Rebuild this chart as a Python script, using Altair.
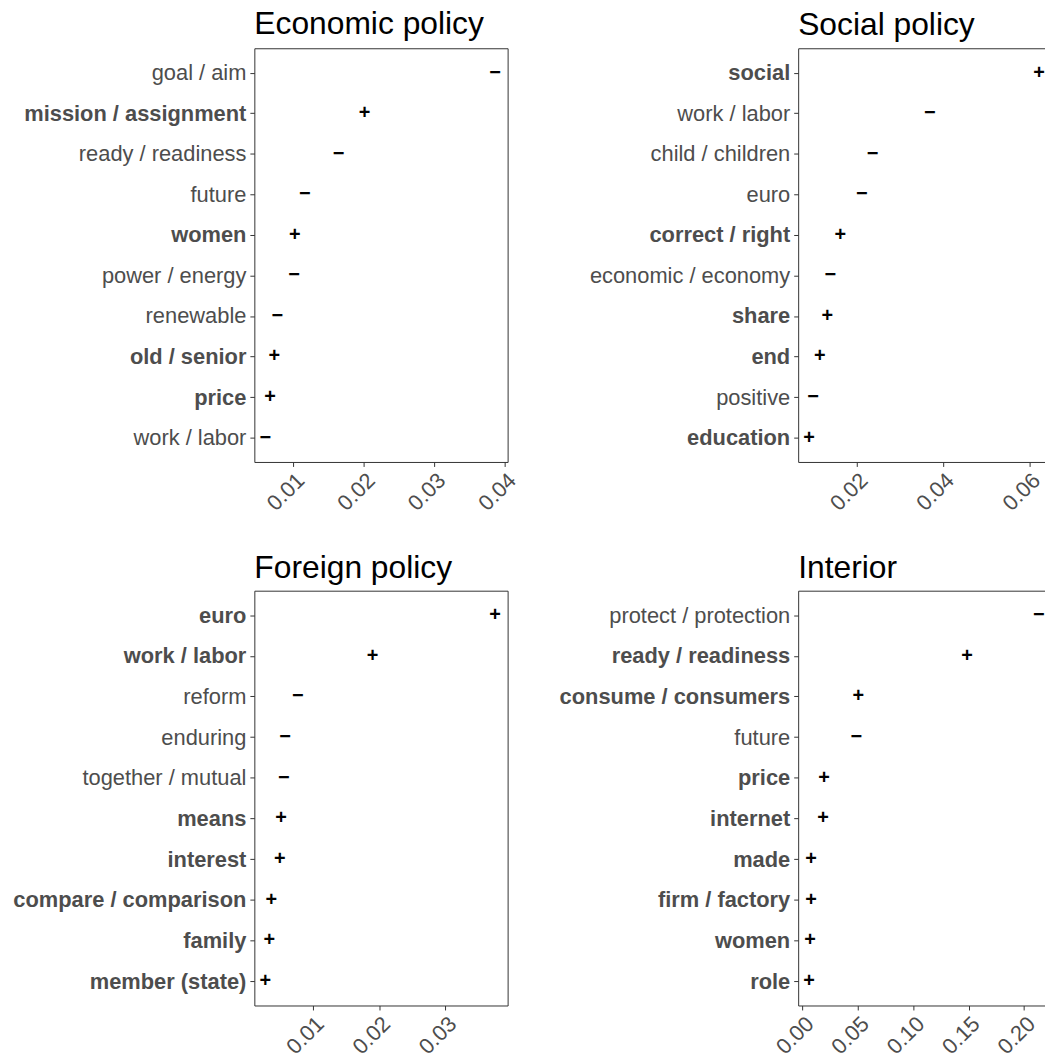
import altair as alt
import pandas as pd

# ---------------- data (top-to-bottom order of each panel) ----------------
econ_terms = ["goal / aim", "mission / assignment", "ready / readiness", "future", "women",
              "power / energy", "renewable", "old / senior", "price", "work / labor"]
econ_values = [0.0386, 0.0201, 0.0164, 0.0116, 0.0102, 0.0101, 0.0077, 0.0073, 0.0067, 0.0060]
econ_signs = ["−", "+", "−", "−", "+", "−", "−", "+", "+", "−"]
econ_ticks = [0.01, 0.02, 0.03, 0.04]

social_terms = ["social", "work / labor", "child / children", "euro", "correct / right",
                "economic / economy", "share", "end", "positive", "education"]
social_values = [0.0623, 0.0370, 0.0237, 0.0212, 0.0162, 0.0139, 0.0132, 0.0115, 0.0099, 0.0090]
social_signs = ["+", "−", "−", "−", "+", "−", "+", "+", "−", "+"]
social_ticks = [0.02, 0.04, 0.06]

foreign_terms = ["euro", "work / labor", "reform", "enduring", "together / mutual", "means",
                 "interest", "compare / comparison", "family", "member (state)"]
foreign_values = [0.0375, 0.0190, 0.0077, 0.0058, 0.0056, 0.0052, 0.0050, 0.0037, 0.0034, 0.0028]
foreign_signs = ["+", "+", "−", "−", "−", "+", "+", "+", "+", "+"]
foreign_ticks = [0.01, 0.02, 0.03]

interior_terms = ["protect / protection", "ready / readiness", "consume / consumers", "future",
                  "price", "internet", "made", "firm / factory", "women", "role"]
interior_values = [0.2134, 0.1485, 0.0503, 0.0485, 0.0195, 0.0186, 0.0077, 0.0076, 0.0067, 0.0058]
interior_signs = ["−", "+", "+", "−", "+", "+", "+", "+", "+", "+"]
interior_ticks = [0.0, 0.05, 0.10, 0.15, 0.20]

# ---------------- styling ----------------
FONT = "Liberation Sans"
LABEL_COLOR = "#4d4d4d"
LINE_COLOR = "#333333"


def panel(title, terms, values, signs, ticks, domain, height, title_offset):
    df = pd.DataFrame({"term": terms, "value": values, "sign": signs})
    bold = [t for t, s in zip(terms, signs) if s == "+"]
    test = "indexof([" + ",".join("'" + t + "'" for t in bold) + "], datum.value) >= 0"
    return (
        alt.Chart(df)
        .mark_text(fontSize=20, fontWeight="bold", color="black", font=FONT,
                   align="center", baseline="middle")
        .encode(
            x=alt.X(
                "value:Q",
                scale=alt.Scale(domain=domain, nice=False, zero=False),
                axis=alt.Axis(
                    values=ticks, format=".2f", labelAngle=-45, labelAlign="right",
                    labelBaseline="top", labelOffset=0, labelPadding=3, labelFontSize=22,
                    labelColor=LABEL_COLOR, labelFont=FONT, tickColor=LINE_COLOR,
                    tickSize=4.5, tickWidth=1, domain=False, grid=False, title=None,
                    labelOverlap=False, labelFlush=False,
                ),
            ),
            y=alt.Y(
                "term:N",
                sort=terms,
                scale=alt.Scale(type="point", padding=0.6),
                axis=alt.Axis(
                    labelFontSize=22, labelColor=LABEL_COLOR, labelFont=FONT,
                    labelFontWeight={"condition": {"test": test, "value": "bold"}, "value": "normal"},
                    labelLimit=400, labelPadding=4, tickColor=LINE_COLOR, tickSize=4.5,
                    tickWidth=1, domain=False, grid=False, title=None,
                ),
            ),
            text="sign:N",
        )
        .properties(
            width=255,
            height=height,
            title=alt.TitleParams(
                title, anchor="start", frame="group", fontSize=32, font=FONT,
                fontWeight="normal", color="black", offset=title_offset, baseline="alphabetic",
            ),
        )
    )


econ = panel("Economic policy", econ_terms, econ_values, econ_signs, econ_ticks,
             [0.00446, 0.04038], 416.5, -18)
social = panel("Social policy", social_terms, social_values, social_signs, social_ticks,
               [0.00646, 0.06518], 416.5, -19)
foreign = panel("Foreign policy", foreign_terms, foreign_values, foreign_signs, foreign_ticks,
                [0.00115, 0.03940], 417.6, -19)
interior = panel("Interior", interior_terms, interior_values, interior_signs, interior_ticks,
                 [-0.00395, 0.22474], 417.6, -19)

chart = (
    alt.concat(econ, social, foreign, interior, columns=2,
               spacing={"row": 129.1, "column": 292.5}, bounds="flush")
    .properties(
        autosize=alt.AutoSizeParams(type="none"),
        padding={"left": 248, "top": 37, "right": 796, "bottom": 1008},
    )
    .configure(font=FONT)
    .configure_view(stroke=LINE_COLOR, strokeWidth=1)
)

chart.save("out.html", embed_options={"renderer": "svg", "actions": False})
